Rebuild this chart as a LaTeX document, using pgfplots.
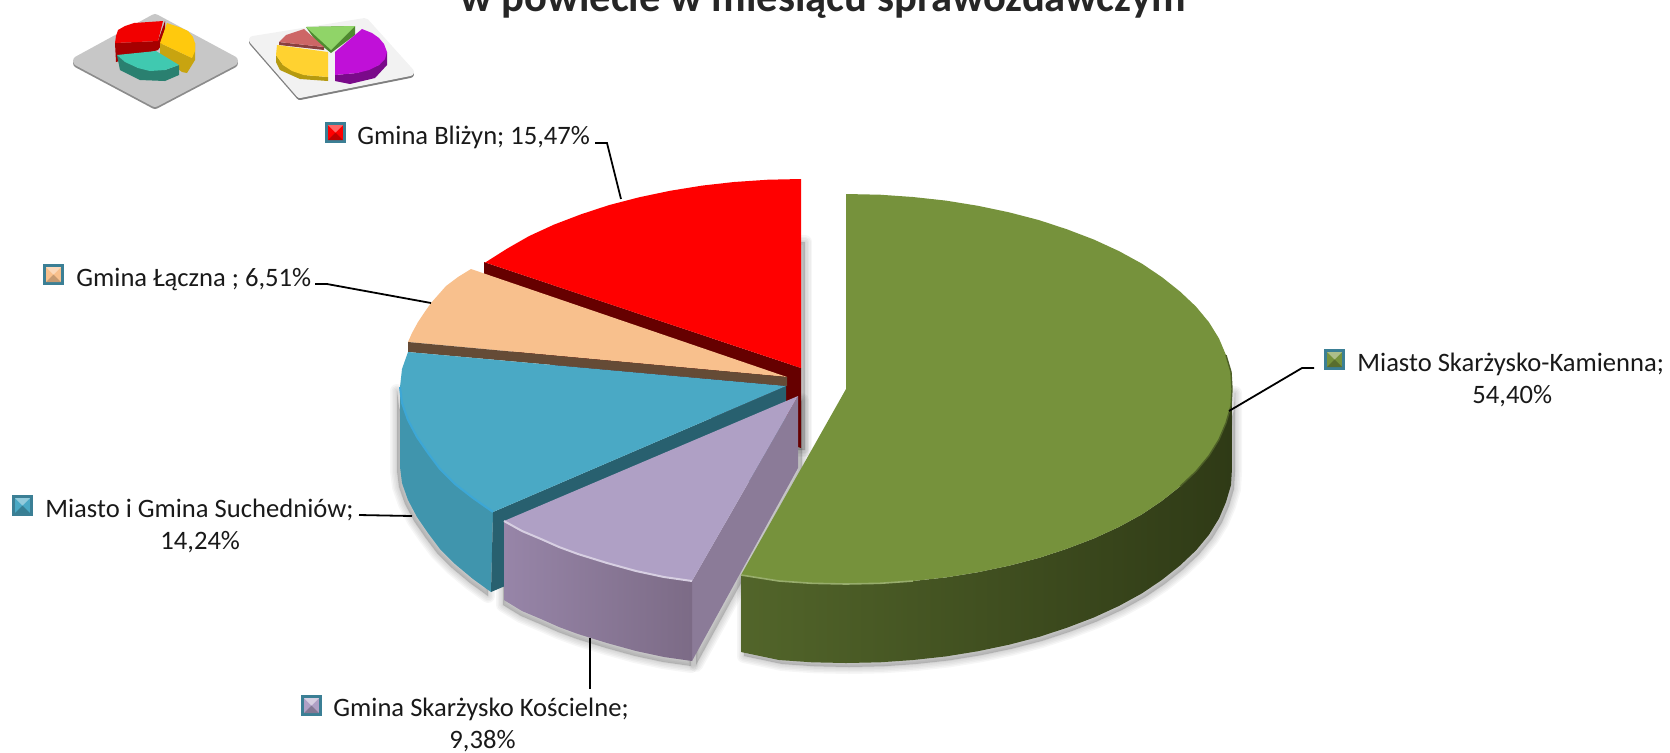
\documentclass[border=0pt]{standalone}
\usepackage{fontspec}
\setmainfont{Carlito}
\usepackage{pgfplots}
\usepackage{pgfplotstable}
\pgfplotsset{compat=1.18}

\definecolor{keyedge}{HTML}{3B7F95}
\definecolor{grntop}{HTML}{76923C}
\definecolor{grnl}{HTML}{52652A}
\definecolor{grnd}{HTML}{2F3A16}
\definecolor{redwall}{HTML}{660000}
\definecolor{orgtop}{HTML}{F8C08D}
\definecolor{brnwall}{HTML}{654B36}
\definecolor{blutop}{HTML}{4AA9C5}
\definecolor{bluside}{HTML}{4095AD}
\definecolor{bluwall}{HTML}{28606F}
\definecolor{purtop}{HTML}{AFA0C5}
\definecolor{purl}{HTML}{9785A8}
\definecolor{purd}{HTML}{7C6B86}
\definecolor{purwall}{HTML}{8B7B98}
\definecolor{icony}{HTML}{FFC90D}
\definecolor{iconyd}{HTML}{C8A410}
\definecolor{icont}{HTML}{40C9B0}
\definecolor{icontd}{HTML}{2A8070}
\definecolor{icong}{HTML}{90D468}
\definecolor{icongd}{HTML}{4F8A30}
\definecolor{iconp}{HTML}{CD6666}
\definecolor{iconpd}{HTML}{8A3F3F}
\definecolor{iconyy}{HTML}{FFD230}
\definecolor{iconyyd}{HTML}{B59A10}
\definecolor{iconv}{HTML}{C010D8}
\definecolor{iconvd}{HTML}{7A0A8A}

% slice outlines in pixels (y down)
\pgfplotstableread{
x y
846 389
846 194
880 194.7
913 197
946 200.6
978 205.8
1009 212.3
1039 220.1
1067 229.3
1094 239.6
1119 251.1
1142 263.7
1162 277.2
1180 291.5
1196 306.6
1209 322.3
1219 338.5
1226 355.1
1231 372
1232 389
1231 406
1226 423
1219 439.5
1209 455.7
1196 471.4
1180 486.5
1162 500.8
1142 514.3
1119 526.9
1094 538.4
1067 548.7
1039 557.9
1009 565.7
978 572.2
946 577.4
913 581
880 583.3
846 584
812 583.3
779 581
741 575
}\greentop
\pgfplotstableread{
x y
1232 389
1231 406
1226 423
1219 439.5
1209 455.7
1196 471.4
1180 486.5
1162 500.8
1142 514.3
1119 526.9
1094 538.4
1067 548.7
1039 557.9
1009 565.7
978 572.2
946 577.4
913 581
880 583.3
846 584
812 583.3
779 581
741 575
741 652
779 660
812 662.3
846 663
880 662.3
913 660
946 656.4
978 651.2
1009 644.7
1039 636.9
1067 627.7
1094 617.4
1119 605.9
1142 593.3
1162 579.8
1180 565.5
1196 550.4
1209 534.7
1219 518.5
1226 502
1231 485
1232 468
}\greenside
\pgfplotstableread{
x y
801 368
484 262
486 262
507 248.7
529 236.1
554 224.6
581 214.3
609 205.1
639 197.3
670 190.8
702 185.6
734 182
768 179.7
801 179
}\redtop
\pgfplotstableread{
x y
484 262
801 368
801 448
484 342
}\redwallt
\pgfplotstableread{
x y
790 240
801 240
801 448
790 448
}\redstrip
\pgfplotstableread{
x y
787 377
471 269
458 277
446 286
431 303
424 313
418 322
412 333
408 342
}\orangetop
\pgfplotstableread{
x y
408 342
787 377
787 386
408 352
}\brownwall
\pgfplotstableread{
x y
786 386
493 512
473 498
455 484
440 469
428 453
417 437
408 420
402 403
400 387
402 369
408 352
}\bluetop
\pgfplotstableread{
x y
493 512
473 498
455 484
440 469
428 453
417 437
408 420
402 403
400 387
400 467
402 483
408 500
417 517
428 533
440 549
455 564
473 579
491 592
}\blueside
\pgfplotstableread{
x y
493 512
786 386
786 466
491 592
}\bluewall
\pgfplotstableread{
x y
798 396
692 581
664 577
636 571
607 563
578 554
559 547
541 539
522 531
504 521
}\purpletop
\pgfplotstableread{
x y
504 521
522 531
541 539
559 547
578 554
607 563
636 571
664 577
692 581
692 661
664 657
636 651
607 643
578 634
559 627
541 619
522 611
504 600
}\purpleside
\pgfplotstableread{
x y
798 396
692 581
692 661
798 468
}\purplewall

% legend key geometry, 21 px square
\pgfplotstableread{
x y
0 0
21 0
21 21
0 21
}\keyouter
\pgfplotstableread{
x y
3 3
18 3
18 18
3 18
}\keyinner
\pgfplotstableread{
x y
3 3
18 3
10.5 10.5
}\keyup
\pgfplotstableread{
x y
3 18
18 18
10.5 10.5
}\keydown

\newcommand{\shadowlayer}[4]{%
  \addplot[draw=black, fill=black, draw opacity=.035, fill opacity=.035, line width=#4, line join=round]
    table[x expr=\thisrow{x}+#2, y expr=\thisrow{y}+#3] {#1} --cycle;
}
\newcommand{\softshadow}[3]{%
  \shadowlayer{#1}{#2}{#3}{7pt}
  \shadowlayer{#1}{#2}{#3}{5.5pt}
  \shadowlayer{#1}{#2}{#3}{4pt}
  \shadowlayer{#1}{#2}{#3}{2.5pt}
  \shadowlayer{#1}{#2}{#3}{1pt}
}
\newcommand{\legkey}[5]{%
  \addplot[draw=none, fill=keyedge] table[x expr=\thisrow{x}+#1, y expr=\thisrow{y}+#2] {\keyouter} --cycle;
  \addplot[draw=none, fill=#4] table[x expr=\thisrow{x}+#1, y expr=\thisrow{y}+#2] {\keyinner} --cycle;
  \addplot[draw=none, fill=#3] table[x expr=\thisrow{x}+#1, y expr=\thisrow{y}+#2] {\keyup} --cycle;
  \addplot[draw=none, fill=#5] table[x expr=\thisrow{x}+#1, y expr=\thisrow{y}+#2] {\keydown} --cycle;
}
\newcommand{\poly}[2]{\addplot[draw=none, fill=#1] coordinates {#2} --cycle;}
\newcommand{\lab}[3]{\node[anchor=base west, inner sep=0pt, font=\fontsize{13.3}{15}\selectfont, text=black!90] at (axis cs:#1,#2) {#3};}
\newcommand{\leader}[1]{\addplot[black, line width=.9pt] coordinates {#1};}

\begin{document}
\begin{tikzpicture}
\useasboundingbox (0,0) rectangle (835pt,376pt);
\clip (0,0) rectangle (835pt,376pt);
\begin{axis}[
  at={(0,0)}, anchor=south west,
  scale only axis, width=835pt, height=376pt,
  xmin=0, xmax=1670, ymin=0, ymax=752, y dir=reverse,
  hide axis, clip=false,
]
% title, cut off at the top as in the source
\node[anchor=base west, inner sep=0pt, font=\fontsize{21.3}{25}\selectfont\bfseries, text=black!85] at (axis cs:460,11)
  {w powiecie w miesiącu sprawozdawczym};

% small icons
\addplot[draw=black!45, fill=black!45, line width=5pt, line join=round] coordinates {(155,20) (233,63) (155,104) (78,63)} --cycle;
\addplot[draw=black!22, fill=black!22, line width=5pt, line join=round] coordinates {(155,19) (233,61) (155,102) (78,61)} --cycle;
\poly{red!65!black}{(115,43) (158,41) (165,21) (165,40) (158,50) (116,62)}
\poly{red!95!black}{(163,21) (158,41) (115,43) (116,36) (118,30) (125,26) (134,23)}
\poly{iconyd}{(160,43) (192,58) (195,43) (195,60) (187,73) (182,72) (160,55)}
\poly{icony}{(167,23) (179,27) (188,31) (193,37) (195,43) (195,51) (192,58) (160,43)}
\poly{icontd}{(117,55) (138,68) (165,70) (179,65) (179,75) (165,81) (140,80) (120,70)}
\poly{icont}{(156,51) (179,65) (165,70) (150,71) (138,68) (125,62) (117,55)}

\addplot[draw=black!50, fill=black!50, line width=4pt, line join=round] coordinates {(365,24) (410,74) (300,96) (253,42)} --cycle;
\addplot[draw=black!5, fill=black!5, line width=4pt, line join=round] coordinates {(365,22) (410,72) (300,94) (253,40)} --cycle;
\poly{icongd}{(306,27) (355,26) (355,35) (331,53) (315,40)}
\poly{icong}{(306,27) (355,26) (331,50)}
\poly{iconpd}{(279,42) (324,47) (324,50) (279,45)}
\poly{iconp}{(304,29) (324,47) (279,42) (286,35)}
\poly{iconyyd}{(276,55) (283,65) (304,75) (328,77) (328,81) (300,79) (280,70) (276,62)}
\poly{iconyy}{(277,45) (328,52) (328,77) (304,75) (292,71) (283,65) (276,55)}
\poly{iconvd}{(335,75) (357,73) (379,65) (387,52) (387,65) (375,78) (350,84) (335,81)}
\poly{iconv}{(335,52) (362,29) (372,33) (379,38) (384,44) (387,52) (385,59) (379,65) (369,70) (357,73) (335,75)}

% soft shadows
\softshadow{\redstrip}{4}{2}
\softshadow{\blueside}{-3}{4}
\softshadow{\purpleside}{-1}{5}
\softshadow{\purplewall}{4}{4}
\softshadow{\greenside}{3}{4}

% red slice
\addplot[draw=none, fill=redwall] table {\redwallt} --cycle;
\addplot[draw=none, fill=red] table {\redtop} --cycle;
% orange slice
\addplot[draw=none, fill=orgtop] table {\orangetop} --cycle;
\addplot[draw=none, fill=brnwall] table {\brownwall} --cycle;
% blue slice
\addplot[draw=none, fill=bluside] table {\blueside} --cycle;
\addplot[draw=none, fill=bluwall] table {\bluewall} --cycle;
\addplot[draw=none, fill=blutop] table {\bluetop} --cycle;
\addplot[color=cyan!50!blutop, line width=1pt] coordinates {(493,512) (473,498) (455,484) (440,469) (428,453) (417,437) (408,420) (402,403) (400,387)};
% purple slice
\addplot[draw=none, fill=purwall] table {\purplewall} --cycle;
\addplot[draw=none, left color=purl, right color=purd] table {\purpleside} --cycle;
\addplot[draw=none, fill=purtop] table {\purpletop} --cycle;
\addplot[color=purtop!50!white, line width=1pt] coordinates {(692,581) (664,577) (636,571) (607,563) (578,554) (559,547) (541,539) (522,531) (504,521)};
% green slice
\addplot[draw=none, left color=grnl, right color=grnd] table {\greenside} --cycle;
\addplot[draw=none, fill=grntop] table {\greentop} --cycle;
\addplot[color=grntop!75!white, line width=.8pt] coordinates {(741,575) (779,581) (812,583.3) (846,584) (880,583.3) (913,581)};
\addplot[color=grntop!65!black, line width=.7pt] coordinates {(1226,355.1) (1231,372) (1232,389) (1231,406) (1226,423) (1219,439.5) (1209,455.7) (1196,471.4) (1180,486.5)};

% leader lines
\leader{(595,143) (607,143) (621,199)}
\leader{(315,284) (327,284) (431,303)}
\leader{(359,515) (412,516)}
\leader{(590,638) (590,689)}
\leader{(1314,368) (1302,368) (1229,411)}

% legend keys
\legkey{325}{122}{red!60}{red}{red!75!black}
\legkey{43}{264}{orgtop!60!white}{orgtop}{orgtop!80!black}
\legkey{12}{495}{blutop!60!white}{blutop}{blutop!75!black}
\legkey{301}{695}{purtop!50!white}{purtop}{purtop!75!black}
\legkey{1324}{349}{grntop!60!white}{grntop}{grntop!75!black}

% labels
\lab{357}{144}{Gmina Bliżyn; 15,47\%}
\lab{76}{286}{Gmina Łączna ; 6,51\%}
\lab{45}{517}{Miasto i Gmina Suchedniów;}
\lab{160}{549}{14,24\%}
\lab{333}{716}{Gmina Skarżysko Kościelne;}
\lab{449}{748}{9,38\%}
\lab{1357}{371}{Miasto Skarżysko-Kamienna;}
\lab{1472}{403}{54,40\%}
\end{axis}
\end{tikzpicture}
\end{document}
